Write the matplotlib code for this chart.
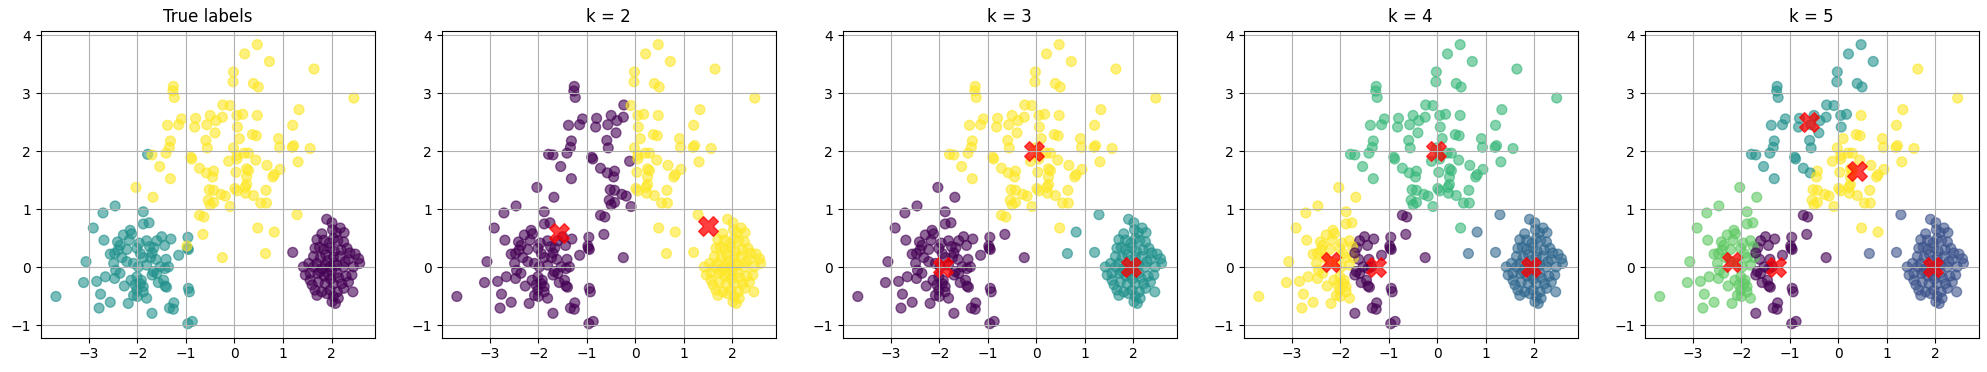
import matplotlib
matplotlib.use("Agg")
import matplotlib.pyplot as plt
import numpy as np

top_x = [0.47, 0.21, 0.72, 1.64, -0.02, -0.03, 0.39, 0.49, -1.26, -1.27, -1.24, 2.46, 1.33, -0.24,
         -0.09, -1.09, -1.15, -1.38, -0.80, -0.50, -0.25, 0.05, 0.17, 0.47, -0.57, -0.38, -0.82,
         0.06, 1.20, -0.40, 0.37, 0.45, 0.10, -0.59, -1.32, 0.91, 1.22, 1.19, 0.93, 1.56, -0.56,
         -1.34, -0.02, -1.41, 0.05, 0.20, 0.29, -0.90, -0.88, -1.70, -0.12, 0.05, 0.44, 0.67, 1.31,
         -1.54, -0.72, -0.43, 0.25, 0.29, 0.94, 0.79, 0.82, -1.32, -0.58, 0.03, -0.45, 0.25, 0.25,
         0.22, -2.03, -0.52, -0.43, -0.28, -0.19, 0.01, 0.05, 0.23, 0.39, 0.65, -1.68, -0.54, -0.43,
         -0.50, -0.09, 0.54, 0.66, 1.29, -0.72, -0.63, -0.65, 0.48, 0.82, 0.64, -0.25, -0.98]
top_y = [3.84, 3.68, 3.55, 3.42, 3.37, 3.20, 3.17, 3.11, 3.12, 3.04, 2.93, 2.92, 2.72, 2.80,
         2.79, 2.56, 2.46, 2.45, 2.57, 2.62, 2.59, 2.62, 2.64, 2.62, 2.46, 2.53, 2.42,
         2.42, 2.45, 2.32, 2.29, 2.27, 2.22, 2.19, 2.18, 2.22, 2.10, 2.07, 2.07, 2.05, 2.06,
         2.07, 2.06, 1.97, 1.93, 1.97, 1.97, 1.90, 1.87, 1.94, 1.83, 1.87, 1.85, 1.76, 1.82,
         1.74, 1.71, 1.66, 1.70, 1.67, 1.69, 1.56, 1.60, 1.53, 1.63, 1.64, 1.56, 1.56, 1.43,
         1.38, 1.38, 1.34, 1.33, 1.26, 1.23, 1.36, 1.32, 1.28, 1.24, 1.33, 1.21, 1.16, 1.12,
         1.08, 1.05, 1.11, 1.11, 0.91, 0.90, 0.87, 0.57, 0.68, 0.61, 0.24, 0.17, 0.37]

left_x = [-1.79, -2.46, -2.71, -1.88, -2.91, -2.15, -1.76, -1.88, -2.69, -2.29, -2.12, -2.41, -2.36,
          -2.17, -1.96, -1.81, -1.60, -1.50, -1.31, -0.96, -0.97, -0.95, -1.44, -1.66, -1.75, -2.01,
          -2.22, -2.47, -2.56, -1.15, -3.06, -2.32, -2.22, -2.49, -1.62, -1.41, -2.08, -1.98, -1.81,
          -1.36, -1.43, -2.45, -2.36, -3.11, -2.84, -2.66, -2.47, -2.27, -2.13, -2.01, -1.70, -1.67,
          -1.57, -1.46, -1.43, -1.40, -2.05, -1.94, -1.88, -2.01, -2.08, -2.00, -1.88, -0.95, -0.93,
          -2.76, -3.68, -2.56, -2.19, -2.79, -1.70, -1.34, -1.26, -1.25, -0.96, -0.87, -1.81, -1.88,
          -1.94, -1.73, -1.53, -1.60, -1.92, -2.40, -1.70]
left_y = [1.95, 1.06, 0.94, 0.96, 0.68, 0.64, 0.77, 0.75, 0.47, 0.56, 0.58, 0.44, 0.38,
          0.47, 0.42, 0.46, 0.46, 0.53, 0.49, 0.52, 0.33, 0.31, 0.38, 0.34, 0.36, 0.33,
          0.31, 0.24, 0.23, 0.21, 0.10, 0.17, 0.10, 0.07, 0.14, 0.14, 0.07, 0.01, 0.04,
          0.01, -0.02, -0.05, -0.10, -0.26, -0.24, -0.16, -0.19, -0.32, -0.22, -0.16, -0.13, -0.07,
          -0.26, -0.22, -0.32, -0.34, -0.30, -0.28, -0.33, -0.39, -0.48, -0.50, -0.42, -0.36, -0.42,
          -0.46, -0.50, -0.60, -0.62, -0.70, -0.79, -0.70, -0.72, -0.61, -0.97, -0.93, -0.53, 0.17,
          0.24, 0.17, 0.01, -0.10, -0.22, 0.30, 0.25]

right_x = [1.90, 2.01, 2.18, 2.26, 1.80, 1.70, 1.84, 2.04, 2.13, 2.25, 1.20, 1.66, 1.84, 1.97, 2.32,
           2.49, 2.56, 2.58, 1.63, 1.77, 2.04, 2.18, 2.35, 1.42, 1.53, 1.70, 1.87, 2.11, 2.25, 2.45,
           1.46, 1.56, 1.77, 1.94, 2.11, 2.42, 2.35, 1.56, 1.73, 1.87, 2.04, 2.21, 1.66, 1.80, 1.97,
           2.25, 2.44, 1.70, 2.04, 2.14, 2.01, 2.08, 1.63, 1.97, 1.80, 1.92, 2.06, 1.88, 2.00, 2.15,
           1.85, 2.28, 1.95, 2.10, 1.72, 2.20, 1.98, 2.05, 1.60, 2.30, 2.38, 1.90, 2.12, 1.75, 2.02]
right_y = [0.83, 0.77, 0.68, 0.60, 0.58, 0.48, 0.47, 0.50, 0.46, 0.44, 0.26, 0.33, 0.31, 0.34, 0.33,
           0.23, 0.15, 0.07, 0.19, 0.17, 0.18, 0.19, 0.14, 0.01, 0.07, 0.07, 0.04, 0.04, 0.01, 0.01,
           -0.13, -0.10, -0.07, -0.13, -0.10, -0.13, -0.25, -0.22, -0.25, -0.28, -0.28, -0.28, -0.39,
           -0.42, -0.39, -0.36, -0.42, -0.48, -0.50, -0.53, -0.59, -0.62, 0.01, 0.01, -0.02, 0.12,
           0.28, 0.22, -0.05, -0.18, -0.15, 0.10, 0.42, 0.60, -0.10, 0.30, -0.20, 0.08, -0.30, -0.15,
           0.25, -0.45, -0.42, 0.35, 0.65]

# cluster centres, listed in label order (0, 1, ...)
centers = {
    2: [(-1.57, 0.60), (1.49, 0.71)],
    3: [(-1.92, 0.01), (1.96, 0.01), (-0.04, 2.01)],
    4: [(-1.27, 0.00), (1.93, 0.01), (-0.02, 2.00), (-2.20, 0.10)],
    5: [(-1.28, 0.00), (1.95, 0.01), (-0.61, 2.50), (-2.19, 0.09), (0.39, 1.66)],
}

X = np.column_stack([right_x + left_x + top_x, right_y + left_y + top_y])
true_labels = np.array([0] * len(right_x) + [1] * len(left_x) + [2] * len(top_x))

fig, axes = plt.subplots(1, 5, figsize=(19.87, 3.72), dpi=100)
fig.subplots_adjust(left=0.0205, right=0.9958, bottom=0.0922, top=0.9175, wspace=0.2)

ax = axes[0]
ax.scatter(X[:, 0], X[:, 1], c=true_labels, cmap="viridis", s=50, alpha=0.6)
ax.set_title("True labels")
ax.grid(True)

for ax, k in zip(axes[1:], [2, 3, 4, 5]):
    c = np.array(centers[k])
    d = ((X[:, None, :] - c[None, :, :]) ** 2).sum(axis=2)
    labels = d.argmin(axis=1)
    ax.scatter(X[:, 0], X[:, 1], c=labels, cmap="viridis", s=50, alpha=0.6,
               vmin=0, vmax=k - 1)
    ax.scatter(c[:, 0], c[:, 1], c="red", marker="X", s=200, alpha=0.75)
    ax.set_title(f"k = {k}")
    ax.grid(True)

fig.savefig("out.png", dpi=100)
